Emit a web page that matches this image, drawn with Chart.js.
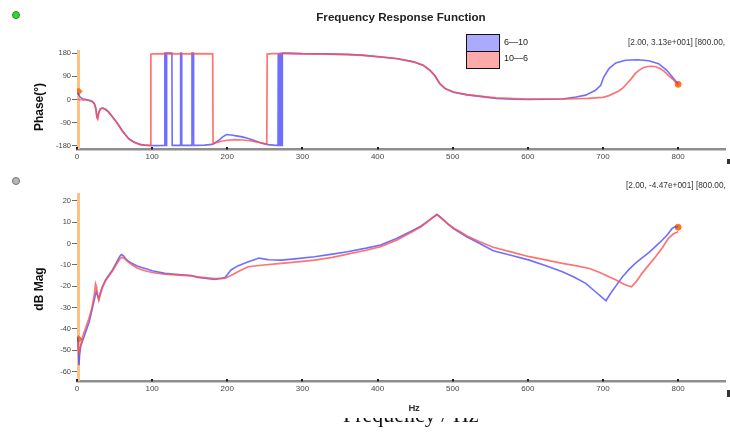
<!DOCTYPE html>
<html>
<head>
<meta charset="utf-8">
<script src="https://cdn.jsdelivr.net/npm/chart.js@4.4.0/dist/chart.umd.min.js"></script>
<style>
  html, body { margin: 0; padding: 0; background: #fff; width: 730px; height: 432px; overflow: hidden;
               font-family: Arial, "Liberation Sans", sans-serif; }
  canvas { position: absolute; left: 0; }
  .t { position: absolute; white-space: nowrap; line-height: 1; }
  .dot { position: absolute; border-radius: 50%; }
</style>
</head>
<body>
<canvas id="phaseChart" width="730" height="175" style="top:0"></canvas>
<canvas id="magChart" width="730" height="230" style="top:170px"></canvas>

<div class="dot" style="left:12px;top:11px;width:6px;height:6px;background:#3ad43a;border:1px solid #1f8f1f"></div>
<div class="dot" style="left:12px;top:177px;width:6px;height:6px;background:#b8b8b8;border:1px solid #707070"></div>

<div class="t" id="title" style="left:401px;top:17px;transform:translate(-50%,-50%);font-weight:bold;font-size:11.6px;color:#222">Frequency Response Function</div>

<div style="position:absolute;left:466px;top:34px;width:32px;height:33px;border:1px solid #111;">
  <div style="height:16px;background:#aaaaff;border-bottom:1px solid #111"></div>
  <div style="height:16px;background:#ffaaaa"></div>
</div>
<div class="t" style="left:504px;top:38px;font-size:9px;color:#222">6—10</div>
<div class="t" style="left:504px;top:54px;font-size:9px;color:#222">10—6</div>

<div class="t" style="left:628px;top:38px;font-size:8.3px;color:#333">[2.00, 3.13e+001] [800.00,</div>
<div class="t" style="left:626px;top:181px;font-size:8.3px;color:#333">[2.00, -4.47e+001] [800.00,</div>

<div class="t" style="left:39px;top:107px;transform:translate(-50%,-50%) rotate(-90deg);font-weight:bold;font-size:12px;color:#111">Phase(°)</div>
<div class="t" style="left:39px;top:289px;transform:translate(-50%,-50%) rotate(-90deg);font-weight:bold;font-size:12px;color:#111">dB Mag</div>
<div class="t" style="left:414px;top:408px;transform:translate(-50%,-50%);font-weight:bold;font-size:9.5px;letter-spacing:-0.4px;color:#333">Hz</div>

<div style="position:absolute;left:320px;top:418px;width:190px;height:14px;overflow:hidden">
  <div class="t" style="left:23px;top:-14.5px;font-family:'Liberation Serif','Times New Roman',serif;font-size:22px;line-height:22px;color:#111">Frequency / Hz</div>
</div>

<div style="position:absolute;left:727px;top:159px;width:3px;height:5px;background:#333"></div>
<div style="position:absolute;left:727px;top:390px;width:3px;height:7px;background:#333"></div>

<script>
// Frequency axis and tick values
const freqTicks = [0, 100, 200, 300, 400, 500, 600, 700, 800];
const phaseTicks = [-180, -90, 0, 90, 180];
const magTicks = [-60, -50, -40, -30, -20, -10, 0, 10, 20];

// Phase (deg) vs frequency (Hz)
const phase6to10 = [[1,26],[2,20],[4,10],[7,3],[12,0],[16,-3],[20,-7],[23,-15],[25,-33],[26.5,-66],[27.5,-72],[29,-50],[31,-36],[34,-33],[38,-38],[42,-48],[47,-66],[52,-85],[56,-102],[60,-120],[64,-135],[69,-152],[74,-162],[78,-168],[84,-174],[90,-177],[95,-178],[105,-179],[116.5,-178],[116.9,180],[117.8,180],[118.2,-178],[118.9,-178],[119.3,180],[126.3,180],[126.7,-178],[137.5,-178],[137.9,180],[139,180],[139.4,-178],[152.6,-178],[153,180],[154.8,180],[155.2,-178],[170,-177],[180,-174],[188,-160],[194,-145],[199,-136],[205,-138],[212,-141],[220,-145],[228,-151],[236,-159],[245,-169],[254,-175],[262,-177],[267.5,-178],[267.8,178],[268.5,178],[268.8,-178],[270,-178],[270.3,178],[271.5,178],[271.8,-178],[273,-178],[273.3,180],[280,180],[300,178],[330,177],[360,175],[380,172],[404,165],[426,158],[448,146],[461,132],[470,112],[476,93],[483,60],[490,42],[501,28],[519,18],[536,12],[558,4],[580,1],[600,0],[625,1],[646,2],[664,10],[677,17],[690,36],[697,55],[701,87],[708,120],[717,142],[730,152],[746,154],[761,150],[774,139],[785,113],[794,81],[800,59]];
const phase10to6 = [[1,2],[2,0],[4,-1],[8,-2],[12,-2],[16,-4],[20,-8],[23,-16],[25,-36],[26.5,-70],[27.5,-76],[29,-52],[31,-37],[34,-34],[38,-39],[42,-49],[47,-68],[52,-86],[56,-103],[60,-121],[64,-136],[69,-153],[74,-163],[78,-169],[84,-175],[90,-177],[97.8,-178],[98.3,176],[100,177],[120,178],[140,177],[160,178],[180.6,177],[181.1,-172],[186,-167],[192,-162],[200,-158],[210,-156],[220,-157],[230,-160],[240,-165],[248,-170],[252.6,-173],[253.1,176],[260,178],[280,178],[300,177],[330,176],[360,174],[380,171],[404,165],[426,159],[448,146],[461,133],[470,113],[476,94],[483,62],[490,43],[501,29],[519,19],[536,13],[558,6],[600,2],[650,2],[680,4],[700,8],[708,15],[721,33],[727,46],[732,62],[738,82],[743,101],[748,113],[754,124],[760,128],[765,129],[770,127],[776,120],[782,108],[787,94],[794,76],[800,55]];

// Magnitude (dB) vs frequency (Hz)
const mag6to10 = [[1,-44],[2,-50],[2.6,-57],[3.5,-52],[5,-48],[9,-44],[13,-40],[16,-37],[20,-31],[24,-25],[25.5,-22.5],[27.5,-24.5],[29,-26],[31,-23],[34,-20],[38,-17],[42,-15],[47,-12.5],[53,-8.6],[57,-6],[59,-5.2],[62,-5.8],[64,-6.8],[68,-8.2],[73,-9.3],[80,-10.5],[86,-11.2],[93,-12],[100,-12.8],[117,-14],[135,-14.5],[152,-15],[161,-15.9],[170,-16.3],[183,-16.8],[192,-16.3],[197,-15.9],[205,-12.4],[214,-10.5],[223,-9.3],[228,-8.6],[236,-7.6],[242,-6.8],[248,-7.2],[255,-7.6],[272,-7.8],[290,-7.2],[316,-6.2],[340,-5],[360,-3.9],[385,-2.2],[404,-0.7],[426,2.4],[448,6.3],[458,8.2],[466,10.2],[473,12],[479,13.6],[483,12.5],[488,11],[494,9],[501,7],[510,5],[518.5,3.1],[536,0],[554,-3.4],[580,-5.8],[602,-7.8],[625,-10.5],[646,-13.2],[662,-15.8],[677,-18.7],[690,-22.6],[698,-25],[704,-26.8],[710,-23.4],[718,-19.5],[726,-15.6],[735,-12],[743,-9.3],[752,-6.8],[761,-4.3],[770,-1.4],[779,1.6],[786,4.2],[792,7],[796,7.8],[800,7.8]];
const mag10to6 = [[1,-46],[2,-50],[3,-51],[4,-49],[6,-46],[9,-42],[13,-38],[16,-35],[20,-30],[23,-24],[24.7,-19],[26,-20.5],[27.5,-24],[29,-26.5],[31,-24],[34,-20.5],[38,-17.5],[42,-15.5],[47,-13],[53,-9.5],[57,-7.2],[60,-6.5],[63,-7],[66,-8],[73,-10],[80,-11.5],[86,-12.3],[93,-13],[100,-13.6],[117,-14.4],[135,-14.8],[152,-15.2],[161,-15.6],[170,-16],[183,-16.5],[192,-16.5],[197,-16.3],[205,-15],[214,-13.2],[223,-11.7],[228,-10.9],[245,-10.2],[272,-9.3],[290,-8.7],[316,-7.8],[340,-6.5],[360,-5],[385,-3.2],[404,-1.5],[426,1.6],[448,5.8],[458,7.8],[466,10],[473,12],[479,13.4],[483,12.3],[488,10.8],[494,9],[501,7.2],[510,5.5],[518.5,3.6],[536,0.8],[554,-1.8],[580,-4.2],[602,-6.2],[625,-7.8],[646,-9.3],[665,-10.5],[682,-11.7],[695,-13.5],[708,-15.6],[718,-17.2],[726,-18.7],[733,-19.8],[738,-20.3],[745,-17.5],[752,-14],[760,-10.5],[770,-6.2],[779,-2],[787,2.4],[794,4.5],[800,5.5]];

// Cursor readouts
const cursorHz = [2, 800];
const cursorPhase = [31.3, 59];
const cursorMag = [-44.7, 7.6];

const BLUE = 'rgba(70,70,255,0.78)';
const RED = 'rgba(255,80,80,0.8)';
const CURSOR = 'rgb(255,192,130)';
const MARK = 'rgb(255,115,20)';

const toXY = pairs => pairs.map(p => ({ x: p[0], y: p[1] }));

// Cursor bar at the first cursor position plus small tick marks on the frequency axis
const cursorPlugin = {
  id: 'cursorBar',
  beforeDatasetsDraw(chart) {
    const { ctx, chartArea, scales } = chart;
    const px = scales.x.getPixelForValue(cursorHz[0]);
    ctx.save();
    ctx.fillStyle = CURSOR;
    ctx.fillRect(px - 1.5, chartArea.top, 3, chartArea.bottom - chartArea.top);
    ctx.restore();
  },
  afterDraw(chart) {
    const { ctx, chartArea, scales } = chart;
    ctx.save();
    ctx.fillStyle = '#222';
    freqTicks.forEach(v => {
      const px = scales.x.getPixelForValue(v);
      ctx.fillRect(Math.round(px) - 1, chartArea.bottom - 2, 2, 2.5);
    });
    ctx.restore();
  }
};

function buildChart(id, seriesA, seriesB, cursorVals, yMin, yMax, yTicks, xAxisHeight, topPad) {
  return new Chart(document.getElementById(id), {
    type: 'line',
    data: {
      datasets: [
        { label: '10—6', data: toXY(seriesB), borderColor: RED, borderWidth: 1.7, pointRadius: 0, tension: 0 },
        { label: '6—10', data: toXY(seriesA), borderColor: BLUE, borderWidth: 1.6, pointRadius: 0, tension: 0 },
        { label: 'cursor', data: cursorHz.map((f, i) => ({ x: f, y: cursorVals[i] })), showLine: false,
          pointStyle: ['rectRot', 'circle'], pointRadius: [3.5, 3], backgroundColor: MARK, borderColor: MARK, borderWidth: 1 }
      ]
    },
    options: {
      responsive: false,
      animation: false,
      events: [],
      layout: { padding: { top: topPad, left: 0, right: 0, bottom: 0 } },
      plugins: { legend: { display: false }, tooltip: { enabled: false }, title: { display: false } },
      scales: {
        x: {
          type: 'linear', min: 0, max: 862.4,
          afterBuildTicks: s => { s.ticks = freqTicks.map(v => ({ value: v })); },
          afterFit: s => { s.height = xAxisHeight; },
          grid: { display: false, drawTicks: false },
          border: { display: true, color: '#8e8e8e', width: 2.5 },
          ticks: { padding: 3, maxRotation: 0, autoSkip: false, color: '#474747', font: { size: 8, family: 'Arial' } }
        },
        y: {
          type: 'linear', min: yMin, max: yMax,
          afterBuildTicks: s => { s.ticks = yTicks.map(v => ({ value: v })); },
          afterFit: s => { s.width = 77; },
          grid: { display: true, drawOnChartArea: false, tickLength: 5, color: '#6a6a6a', lineWidth: 1 },
          border: { display: false },
          ticks: { padding: 1, color: '#474747', font: { size: 7.5, family: 'Arial' } }
        }
      }
    },
    plugins: [cursorPlugin]
  });
}

buildChart('phaseChart', phase6to10, phase10to6, cursorPhase, -192, 192, phaseTicks, 26, 50);
buildChart('magChart', mag6to10, mag10to6, cursorMag, -64.35, 23.6, magTicks, 19, 23);
</script>
</body>
</html>
